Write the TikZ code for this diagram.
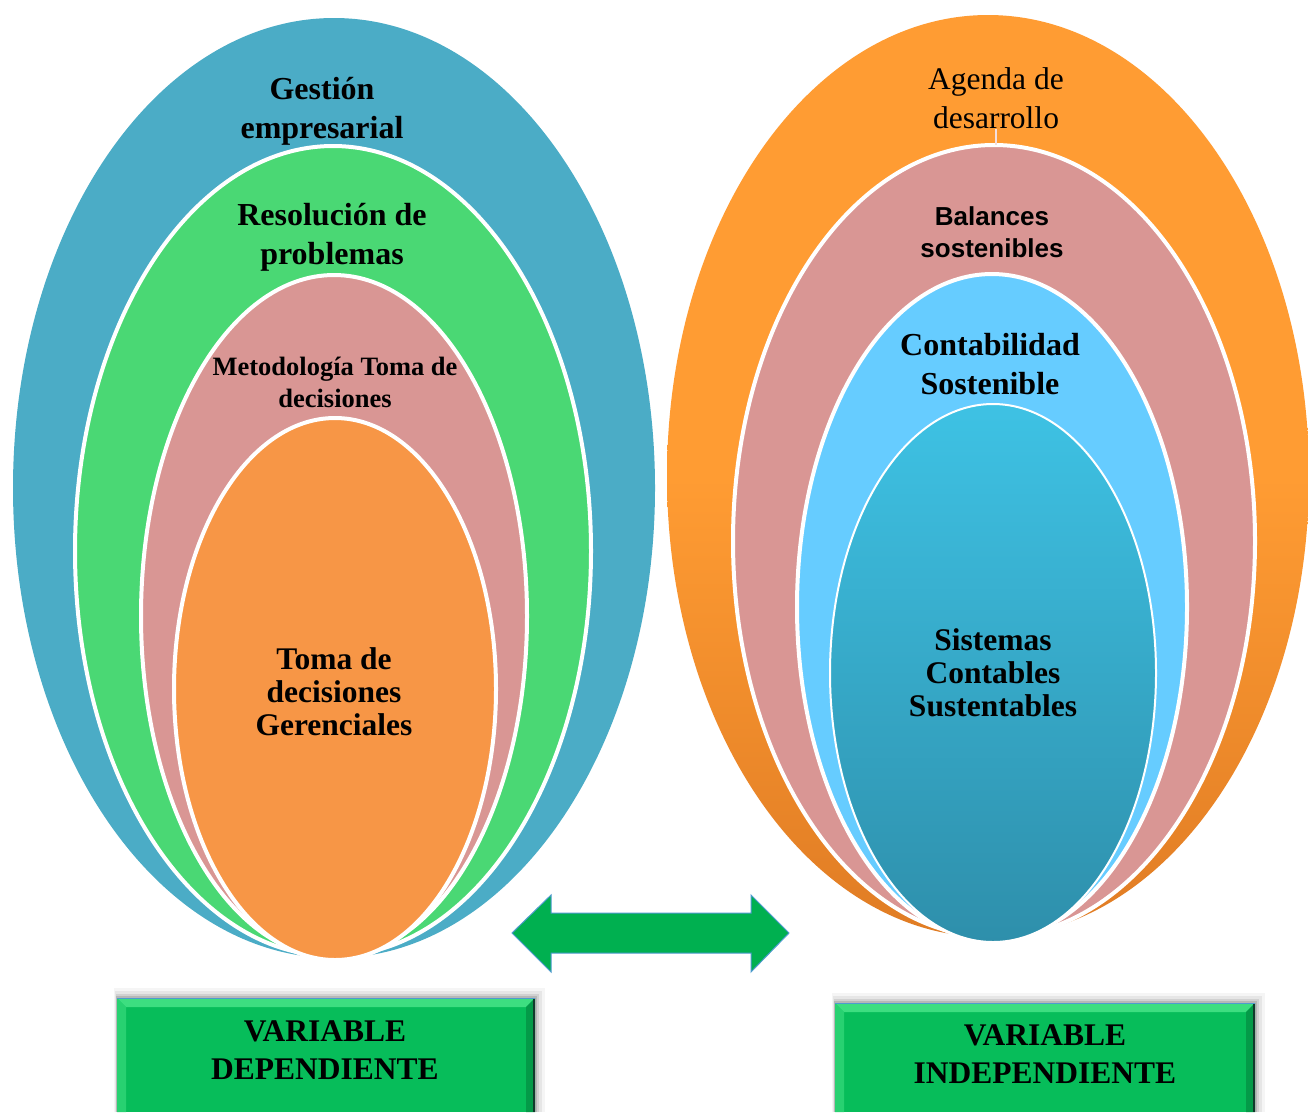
\documentclass[tikz,border=0pt]{standalone}
\usepackage{fontspec}
\setmainfont{Liberation Serif}
\newfontfamily\arialf{Liberation Sans}
\definecolor{lblue}{HTML}{4BACC6}
\definecolor{lgreen}{HTML}{4AD874}
\definecolor{lpink}{HTML}{D99694}
\definecolor{lorange}{HTML}{F79646}
\definecolor{rorangeT}{HTML}{FF9C33}
\definecolor{rorangeB}{HTML}{E07C24}
\definecolor{rsky}{HTML}{66CCFF}
\definecolor{rtealT}{HTML}{3EC2E4}
\definecolor{rtealB}{HTML}{2E8FAB}
\definecolor{arrgreen}{HTML}{00B050}
\definecolor{arredge}{HTML}{4F9BCF}
\definecolor{boxgreen}{HTML}{07BD5A}
\definecolor{boxlight}{HTML}{3DDE80}
\definecolor{boxdark}{HTML}{049A48}
\definecolor{boxrim}{HTML}{123A2C}
\tikzset{
  ring/.style={draw=white, line width=4pt},
  ringthin/.style={draw=white, line width=2pt},
  tb/.style={font=\bfseries\fontsize{32}{39}\selectfont, align=center, inner sep=0pt},
  tbs/.style={font=\bfseries\fontsize{31.5}{33}\selectfont, align=center, inner sep=0pt},
  tmeth/.style={font=\bfseries\fontsize{26.5}{32}\selectfont, align=center, inner sep=0pt},
  treg/.style={font=\fontsize{31.5}{39}\selectfont, align=center, inner sep=0pt},
  tarial/.style={font=\arialf\bfseries\fontsize{26}{32}\selectfont, align=center, inner sep=0pt},
  tbox/.style={font=\bfseries\fontsize{31.5}{38.5}\selectfont, align=center, inner sep=0pt},
  dblarrow/.style={fill=arrgreen, draw=arredge, line width=1pt, line join=miter},
}
\begin{document}
\begin{tikzpicture}[x=1pt,y=-1pt]
\useasboundingbox (0,0) rectangle (1308,1112);
\fill[white] (0,0) rectangle (1308,1112);

% ---------- left group ----------
\fill[lblue] (334,488) ellipse [x radius=321, y radius=470];
\filldraw[fill=lgreen, ring] (333,551) ellipse [x radius=258, y radius=405];
\filldraw[fill=lpink, ring] (334,616) ellipse [x radius=193, y radius=341];
\filldraw[fill=lorange, ring] (335,689) ellipse [x radius=161, y radius=271];

\node[tb]   (gest) at (322,111) {Gestión\\empresarial};
\node[tb]   (reso) at (332,237) {Resolución de\\problemas};
\node[tmeth](meto) at (335,382) {Metodología Toma de\\decisiones};
\node[tbs]  (toma) at (334,692) {Toma de\\decisiones\\Gerenciales};

% ---------- right group ----------
\shade[top color=rorangeT, bottom color=rorangeB, middle color=rorangeT] (988,476) ellipse [x radius=321, y radius=461];
\filldraw[fill=lpink, ring] (994,541) ellipse [x radius=261, y radius=396];
\filldraw[fill=rsky, ring] (992,607) ellipse [x radius=195, y radius=333];
\shade[top color=rtealT, bottom color=rtealB] (993,673) ellipse [x radius=163, y radius=269];
\draw[ringthin] (993,673) ellipse [x radius=163, y radius=269];

\node[treg]   (agen) at (996,98) {Agenda de\\desarrollo};
\coordinate (pinktop) at (996,145);
\draw[white!70!lpink, line width=1.5pt] (agen.south) -- (pinktop);
\node[tarial] (bala) at (992,232) {Balances\\sostenibles};
\node[tb]     (cont) at (990,364) {Contabilidad\\Sostenible};
\node[tbs]    (sist) at (993,673) {Sistemas\\Contables\\Sustentables};

% ---------- double arrow ----------
\coordinate (aL) at (512,933);
\coordinate (aR) at (789,933);
\draw[dblarrow] (aL) -- (551,895) -- (551,913) -- (751,913) -- (751,895) -- (aR)
  -- (751,972) -- (751,953) -- (551,953) -- (551,972) -- cycle;

% ---------- boxes ----------
\foreach \o/\a in {10/0.04,7/0.06,4/0.09,2/0.12}{
  \fill[black, opacity=\a] (117-\o/3,998-\o) rectangle (535+\o,1112);
  \fill[black, opacity=\a] (835-\o/3,1003-\o) rectangle (1255+\o,1112);
}
% left box
\fill[boxgreen] (117,998) rectangle (535,1112);
\fill[boxlight] (117,998) -- (535,998) -- (526,1007) -- (126,1007) -- cycle;
\fill[boxlight!60!boxgreen] (117,998) -- (126,1007) -- (126,1112) -- (117,1112) -- cycle;
\fill[boxdark] (535,998) -- (526,1007) -- (526,1112) -- (535,1112) -- cycle;
\draw[boxrim, line width=2pt] (534,999) -- (534,1112);
\draw[arredge, line width=1pt] (117,998.5) -- (535,998.5);
\node[tbox] (vdep) at (325,1050) {VARIABLE\\DEPENDIENTE};
% right box
\fill[boxgreen] (835,1003) rectangle (1255,1112);
\fill[boxlight] (835,1003) -- (1255,1003) -- (1246,1012) -- (844,1012) -- cycle;
\fill[boxlight!60!boxgreen] (835,1003) -- (844,1012) -- (844,1112) -- (835,1112) -- cycle;
\fill[boxdark] (1255,1003) -- (1246,1012) -- (1246,1112) -- (1255,1112) -- cycle;
\draw[boxrim, line width=2pt] (1254,1004) -- (1254,1112);
\draw[arredge, line width=1pt] (835,1003.5) -- (1255,1003.5);
\node[tbox] (vind) at (1045,1054) {VARIABLE\\INDEPENDIENTE};
\end{tikzpicture}
\end{document}
